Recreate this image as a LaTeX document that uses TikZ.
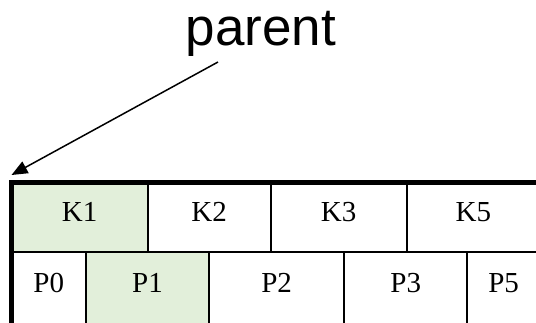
\documentclass[tikz,border=0pt]{standalone}
\usepackage{fontspec}
\setmainfont{Liberation Serif}
\newfontfamily\labelfont{Liberation Sans}
\usetikzlibrary{positioning,arrows.meta}
\definecolor{keyGreen}{RGB}{226,239,218}
\tikzset{
    cell/.style={draw, line width=1.7pt, rectangle, inner sep=0pt, outer sep=0pt,
        font=\fontsize{29}{32}\selectfont, text height=20pt, text depth=12pt},
    keyCell/.style={cell, minimum height=70pt},
    ptrCell/.style={cell, minimum height=72pt}
}
\tikzset{
    nodeFrame/.style={line width=5pt},
    pointer/.style={line width=1.5pt, -{Triangle[length=16pt,width=13pt]}}
}

\begin{document}
\begin{tikzpicture}[x=1pt,y=-1pt]
    \useasboundingbox (0,0) rectangle (536,322);
    \clip (0,0) rectangle (536,322);
    % keys
    \node[keyCell, fill=keyGreen, minimum width=136.2pt] (K1) at (79.6,217) {K1};
    \node[keyCell, minimum width=123pt, right=0pt of K1] (K2) {K2};
    \node[keyCell, minimum width=136pt, right=0pt of K2] (K3) {K3};
    \node[keyCell, minimum width=133.3pt, right=0pt of K3] (K5) {K5};
    % pointers
    \node[ptrCell, minimum width=74.5pt, anchor=north west] (P0) at (K1.south west) {P0};
    \node[ptrCell, fill=keyGreen, minimum width=123pt, right=0pt of P0] (P1) {P1};
    \node[ptrCell, minimum width=135.3pt, right=0pt of P1] (P2) {P2};
    \node[ptrCell, minimum width=123pt, right=0pt of P2] (P3) {P3};
    \node[ptrCell, minimum width=72.7pt, right=0pt of P3] (P5) {P5};
    \draw[nodeFrame] (P0.south west) -- (K1.north west) -- (K5.north east);
    % label
    \node[font=\labelfont\fontsize{53}{60}\selectfont, inner sep=0pt, anchor=base] (parent) at (261,45) {parent};
    \coordinate (tail) at (218,62);
    \draw[pointer] (tail) -- ([yshift=7pt]K1.north west);
\end{tikzpicture}
\end{document}
